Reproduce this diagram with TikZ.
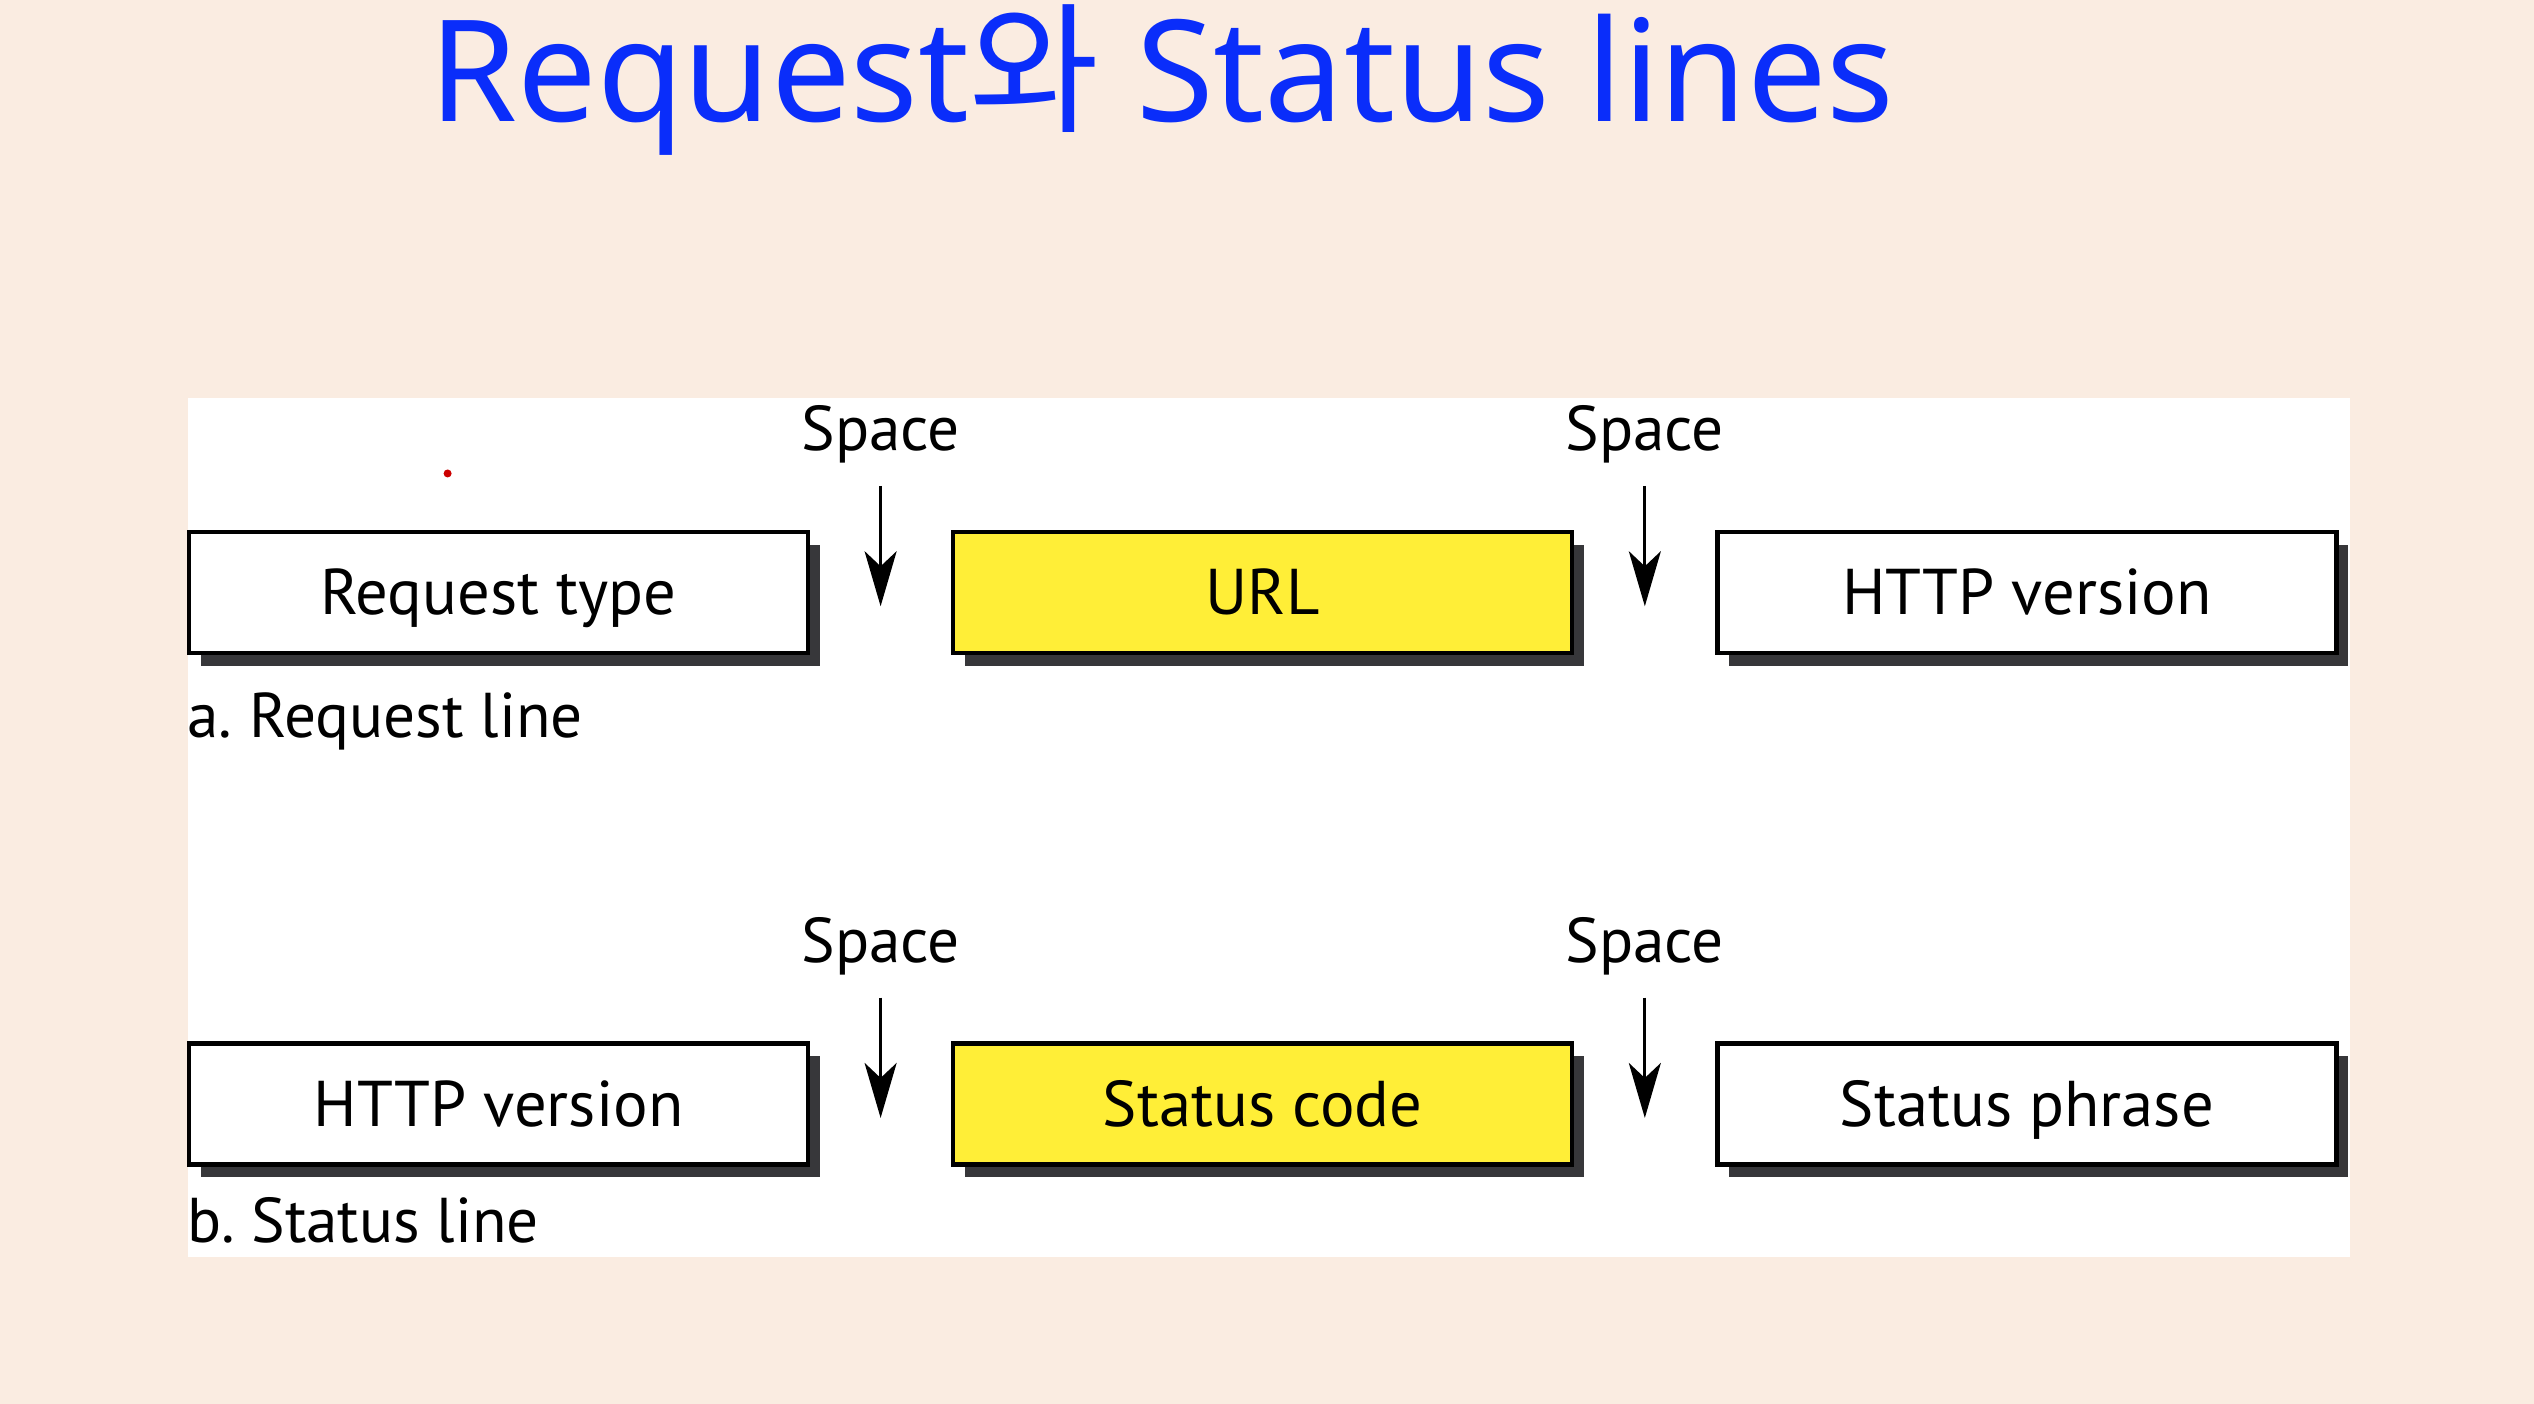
\documentclass[tikz,border=0pt]{standalone}
\usepackage{fontspec}
\setmainfont{PT Sans}
\newfontfamily\titlefont{Noto Sans}
\newfontfamily\krfont{Noto Sans CJK KR}
\usetikzlibrary{arrows.meta,positioning,shadows}
\definecolor{SlidePeach}{RGB}{250,236,225}
\definecolor{TitleBlue}{RGB}{10,45,250}
\definecolor{FieldYellow}{RGB}{255,238,55}
\definecolor{ShadowGray}{RGB}{55,55,58}
\frenchspacing

\begin{document}
\begin{tikzpicture}[>={Stealth[length=5.5mm,width=3.2mm,inset=1.5mm]},
    field/.style={draw,line width=1.2pt,fill=white,minimum width=6.19cm,minimum height=1.21cm,inner sep=0pt,
      font=\fontsize{18.4}{20}\selectfont,text height=12.6pt,text depth=0pt,
      drop shadow={shadow xshift=0.12cm,shadow yshift=-0.13cm,fill=ShadowGray,opacity=1}},
    keyfield/.style={field,fill=FieldYellow},
    spacelbl/.style={font=\fontsize{18}{20}\selectfont,inner sep=2pt},
    caption/.style={font=\fontsize{18}{20}\selectfont,inner sep=0pt,anchor=base west},
    spacearrow/.style={->,line width=0.9pt,shorten <=1.5mm}]
  \fill[SlidePeach] (0,0) rectangle (25.34,14.04);
  \fill[white] (1.875,1.47) rectangle (23.50,10.06);
  \useasboundingbox (0,0) rectangle (25.34,14.04);
  \node[TitleBlue,font=\titlefont\fontsize{40.2}{44}\selectfont,anchor=base,inner sep=0pt] (title) at (11.62,12.82)
    {Request{\krfont 와} Status lines};
  \fill[red!80!black] (4.476,9.305) circle (0.04);
  % a. request line
  \node[field] (rtype) at (4.985,8.117) {Request type};
  \node[keyfield,right=1.41cm of rtype] (url) {URL};
  \node[field,right=1.41cm of url] (rver) {HTTP version};
  \coordinate (tipa1) at ([xshift=0.705cm,yshift=-0.14cm]rtype.east);
  \coordinate (tipa2) at ([xshift=0.705cm,yshift=-0.14cm]url.east);
  \node[spacelbl] (spa1) at ([yshift=1.72cm]tipa1) {Space};
  \node[spacelbl] (spa2) at ([yshift=1.72cm]tipa2) {Space};
  \draw[spacearrow] (spa1) -- (tipa1);
  \draw[spacearrow] (spa2) -- (tipa2);
  \node[caption] (capa) at ([yshift=-0.83cm]rtype.south west) {a. Request line};
  % b. status line
  \node[field] (sver) at (4.985,3.0) {HTTP version};
  \node[keyfield,right=1.41cm of sver] (code) {Status code};
  \node[field,right=1.41cm of code] (phrase) {Status phrase};
  \coordinate (tipb1) at ([xshift=0.705cm,yshift=-0.14cm]sver.east);
  \coordinate (tipb2) at ([xshift=0.705cm,yshift=-0.14cm]code.east);
  \node[spacelbl] (spb1) at ([yshift=1.72cm]tipb1) {Space};
  \node[spacelbl] (spb2) at ([yshift=1.72cm]tipb2) {Space};
  \draw[spacearrow] (spb1) -- (tipb1);
  \draw[spacearrow] (spb2) -- (tipb2);
  \node[caption] (capb) at ([yshift=-0.76cm]sver.south west) {b. Status line};
\end{tikzpicture}
\end{document}
